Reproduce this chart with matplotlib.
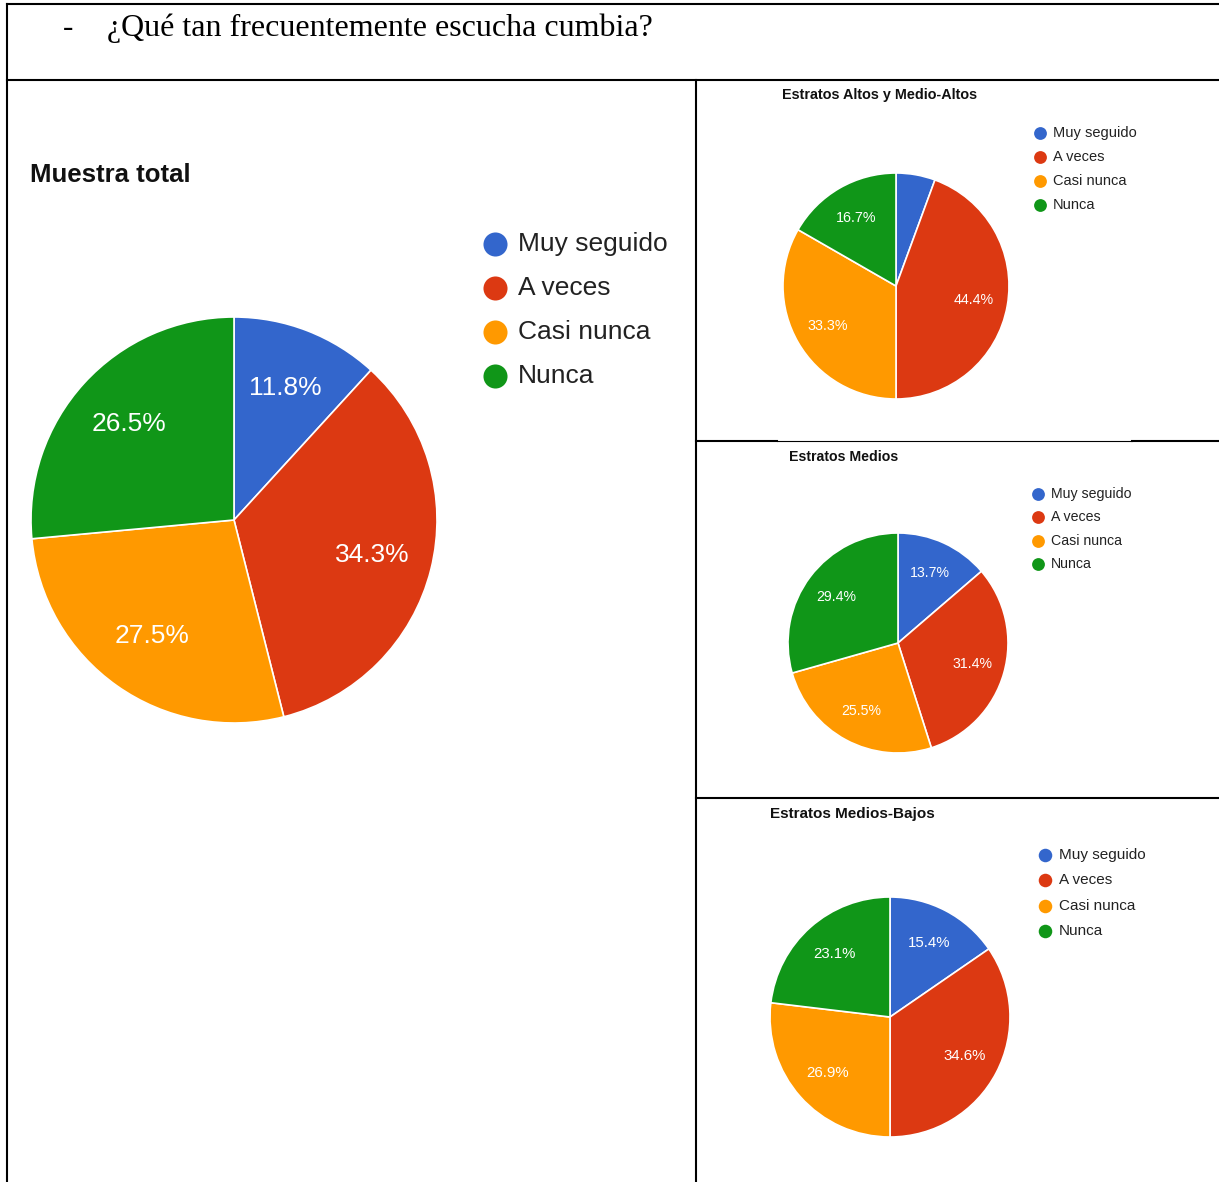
import numpy as np
import matplotlib.pyplot as plt

plt.rcParams['font.family'] = ['Liberation Sans', 'DejaVu Sans']

categories = ['Muy seguido', 'A veces', 'Casi nunca', 'Nunca']
colors = ['#3366CC', '#DC3912', '#FF9900', '#109618']

total = [11.8, 34.3, 27.5, 26.5]
altos = [5.6, 44.4, 33.3, 16.7]
medios = [13.7, 31.4, 25.5, 29.4]
bajos = [15.4, 34.6, 26.9, 23.1]

question = '¿Qué tan frecuentemente escucha cumbia?'

W, H = 1219, 1182
fig = plt.figure(figsize=(W / 100, H / 100), dpi=100)

# overlay in pixel coordinates for table lines, titles and legends
bg = fig.add_axes([0, 0, 1, 1])
bg.set_xlim(0, W)
bg.set_ylim(H, 0)
bg.axis('off')

lw = 1.5
bg.plot([7, W], [4, 4], c='black', lw=lw)
bg.plot([7, 7], [4, H], c='black', lw=lw)
bg.plot([7, W], [80, 80], c='black', lw=lw)
bg.plot([696, 696], [80, H], c='black', lw=lw)
bg.plot([696, 777], [441, 441], c='black', lw=lw)
bg.plot([777, 1132], [441, 441], c='black', lw=0.8)
bg.plot([1132, W], [441, 441], c='black', lw=lw)
bg.plot([696, W], [798, 798], c='black', lw=lw)

bg.text(63, 28, '-', family='Liberation Serif', fontsize=22.5, va='center')
bg.text(107, 28, question, family='Liberation Serif', fontsize=23, va='center')


def draw_pie(values, title, cx, cy, r, lab_fs, title_xy, title_fs,
             leg_x, leg_y, leg_dy, leg_fs, dot, gap):
    m = 1.04
    ax = fig.add_axes([(cx - r * m) / W, (H - cy - r * m) / H, 2 * r * m / W, 2 * r * m / H])
    wedges, _ = ax.pie(values, colors=colors, startangle=90, counterclock=False,
                       wedgeprops=dict(edgecolor='white', linewidth=1.2))
    ax.set_xlim(-m, m)
    ax.set_ylim(-m, m)
    ax.axis('off')
    for w, v in zip(wedges, values):
        if v < 8:
            continue  # small slices get no label
        ang = np.deg2rad((w.theta1 + w.theta2) / 2)
        ax.text(0.7 * np.cos(ang), 0.7 * np.sin(ang), f'{v:.1f}%', color='white',
                fontsize=lab_fs, ha='center', va='center')
    bg.text(title_xy[0], title_xy[1], title, fontsize=title_fs, fontweight='bold',
            va='center', color='#111111')
    for i, (cat, col) in enumerate(zip(categories, colors)):
        y = leg_y + i * leg_dy
        bg.scatter([leg_x], [y], s=dot, color=col, zorder=3, linewidths=0)
        bg.text(leg_x + gap, y, cat, fontsize=leg_fs, va='center', color='#222222')


draw_pie(total, 'Muestra total', 234, 520, 203, 19, (30, 175), 18.5,
         495, 244, 44, 19, 300, 23)
draw_pie(altos, 'Estratos Altos y Medio-Altos', 896, 286, 113, 10.3, (782, 95), 10.4,
         1040, 133, 24, 10.5, 85, 13)
draw_pie(medios, 'Estratos Medios', 898, 643, 110, 10.2, (789, 457), 10.2,
         1038, 494, 23.3, 10.2, 85, 13)
draw_pie(bajos, 'Estratos Medios-Bajos', 890, 1017, 120, 10.8, (770, 814), 11,
         1045, 855, 25.3, 11, 95, 14)

fig.savefig('out.png', dpi=100, facecolor='white')
